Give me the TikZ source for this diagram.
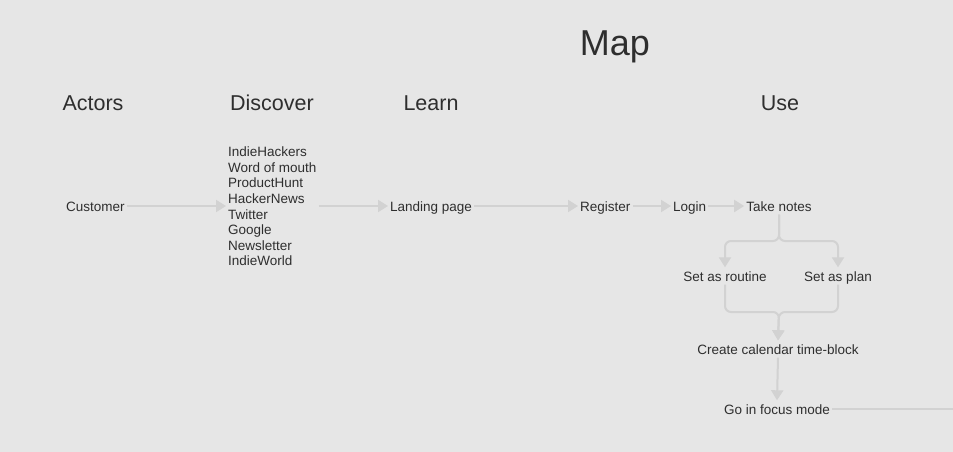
\documentclass[tikz,border=0pt]{standalone}
\usepackage{fontspec}
\setmainfont{Liberation Sans}
\usetikzlibrary{arrows.meta}
\definecolor{bgc}{HTML}{E6E6E6}
\definecolor{txt}{HTML}{2E2E2E}
\definecolor{conc}{HTML}{D2D2D2}
\tikzset{
  lbl/.style={inner sep=2pt, text=txt, font=\fontsize{13.5}{15.6}\selectfont, text height=12pt, text depth=1pt},
  hdr/.style={inner sep=0pt, text=txt, font=\fontsize{21.5}{24}\selectfont},
  conn/.style={draw=conc, line width=2pt, -{Triangle[length=10pt,width=12pt]}},
  plain/.style={draw=conc, line width=2pt},
}
\begin{document}
\begin{tikzpicture}[x=1pt,y=-1pt]
\fill[bgc] (0,0) rectangle (953,452);
\useasboundingbox (0,0) rectangle (953,452);
% title and headers
\node[inner sep=0pt, text=txt, font=\fontsize{36}{40}\selectfont, anchor=base] (title) at (615,56) {Map};
\node[hdr] (hact) at (93,103) {Actors};
\node[hdr] (hdis) at (272,103) {Discover};
\node[hdr] (hlearn) at (431,103) {Learn};
\node[hdr] (huse) at (780,103) {Use};
% nodes
\node[lbl, anchor=west] (cust) at (64,206) {Customer};
\node[inner sep=2pt, text=txt, font=\fontsize{13.5}{15.6}\selectfont, align=left, anchor=west] (list) at (226,206.5)
  {IndieHackers\\Word of mouth\\ProductHunt\\HackerNews\\Twitter\\Google\\Newsletter\\IndieWorld};
\node[lbl, anchor=west] (land) at (388,206) {Landing page};
\node[lbl, anchor=west] (reg) at (578,206) {Register};
\node[lbl, anchor=west] (login) at (671,206) {Login};
\node[lbl] (take) at (779,206) {Take notes};
\node[lbl] (routine) at (725,276) {Set as routine};
\node[lbl] (plan) at (838,276) {Set as plan};
\node[lbl] (cal) at (778,349) {Create calendar time-block};
\node[lbl] (focus) at (777,409) {Go in focus mode};
\coordinate (split) at (779,241);
\coordinate (merge) at (779,312);
\coordinate (out) at (953,409);
% connectors
\draw[conn] (cust.east) -- (list.west |- cust.east);
\draw[conn] (list.east |- land.west) -- (land.west);
\draw[conn] (land.east) -- (reg.west);
\draw[conn] (reg.east) -- (login.west);
\draw[conn] (login.east) -- (take.west);
\draw[conn, rounded corners=6pt] (take.south) -- (split) -| (routine.north);
\draw[conn, rounded corners=6pt] (take.south) -- (split) -| (plan.north);
\draw[conn, rounded corners=6pt] (routine.south) |- (merge) -- (cal.north);
\draw[conn, rounded corners=6pt] (plan.south) |- (merge) -- (cal.north);
\draw[conn] (cal.south) -- (focus.north);
\draw[plain] (focus.east) -- (out);
\end{tikzpicture}
\end{document}
